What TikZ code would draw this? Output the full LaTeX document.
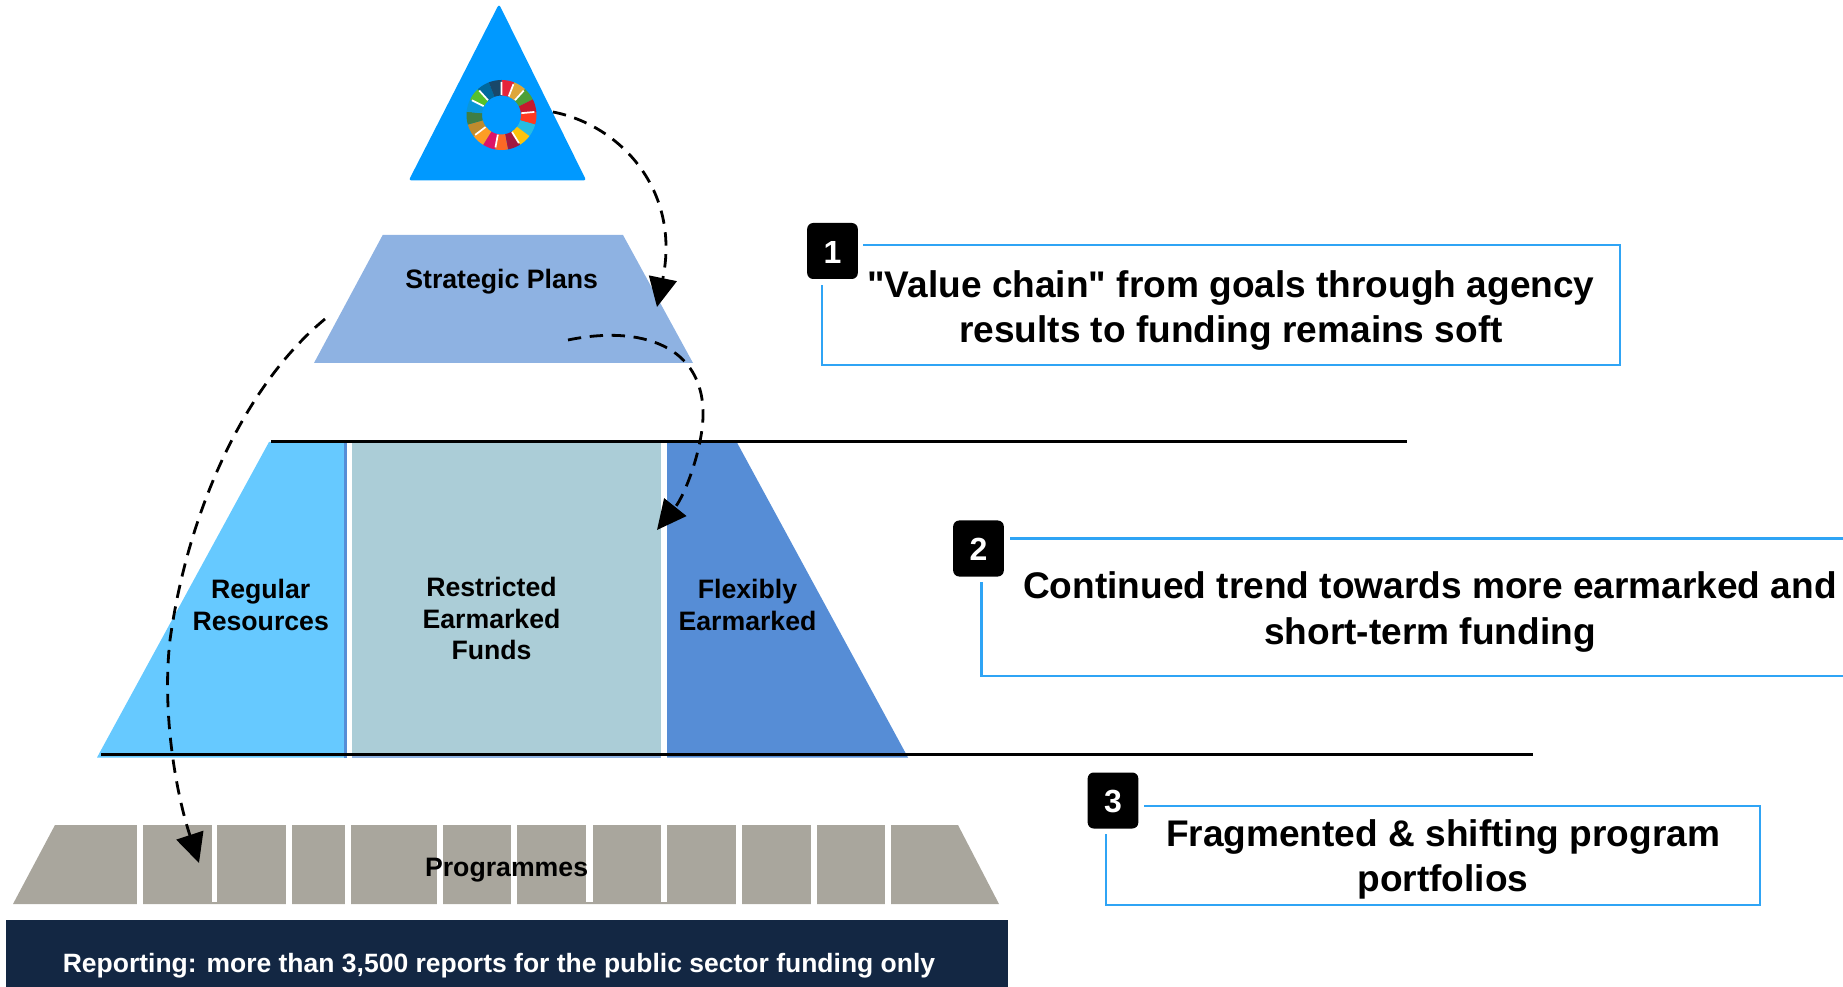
\documentclass[tikz,border=0pt]{standalone}
\usepackage{fontspec}
\setmainfont{Liberation Sans}
\newfontfamily\straightq{Liberation Sans}
\usetikzlibrary{arrows.meta}
\definecolor{tri}{HTML}{0099FF}
\definecolor{strat}{HTML}{8EB2E2}
\definecolor{regular}{HTML}{66C9FF}
\definecolor{restr}{HTML}{ABCDD7}
\definecolor{flex}{HTML}{568DD6}
\definecolor{prog}{HTML}{A9A69D}
\definecolor{navy}{HTML}{132743}
\definecolor{boxline}{HTML}{2FA4F5}
\tikzset{
  lbl/.style={font=\fontsize{20pt}{23.8pt}\selectfont\bfseries,align=center,inner sep=0pt,text=black},
  replbl/.style={font=\fontsize{19.87pt}{23.8pt}\selectfont\bfseries,align=center,inner sep=0pt,text=white},
  head/.style={font=\fontsize{27.8pt}{33.9pt}\selectfont\bfseries,align=center,inner sep=0pt,text=black},
  badge/.style={fill=black,rounded corners=4.5pt,inner sep=0pt},
  badgenum/.style={font=\fontsize{24pt}{28pt}\selectfont\bfseries,text=white,inner sep=0pt},
  frame/.style={draw=boxline,line width=1.6pt},
  rule/.style={draw=black,line width=2pt},
  flow/.style={draw=black,line width=2.1pt,dash pattern=on 10pt off 6.5pt,-{Triangle[length=22pt,width=21pt]}},
  gap/.style={fill=white,draw=none}
}
\begin{document}
\begin{tikzpicture}[x=0.75pt,y=-0.75pt]
\useasboundingbox (0,0) rectangle (1843,987);
% apex
\fill[tri,draw=tri,line width=2pt,line join=round] (499,7) -- (584,179) -- (411,179) -- cycle;
% SDG wheel
\begin{scope}[shift={(501.5,115)}]
\foreach \c [count=\i from 0] in {E5243B,DDA63A,4C9F38,C5192D,FF3A21,26BDE2,FCC30B,A21942,FD6925,DD1367,FD9D24,BF8B2E,3F7E44,0A97D9,56C02B,00689D,19486A}{
  \pgfmathsetmacro{\aa}{-90+21.176*\i}
  \pgfmathsetmacro{\ab}{\aa+21.176}
  \definecolor{sdg}{HTML}{\c}
  \fill[sdg] (\aa:35) arc[start angle=\aa,end angle=\ab,radius=35] -- (\ab:19.5) arc[start angle=\ab,end angle=\aa,radius=19.5] -- cycle;
}
\foreach \i in {0,1,3,6,8,10,13,14,16}{
  \pgfmathsetmacro{\aa}{-90+21.176*(\i+1)}
  \draw[white,line width=1.3pt] (\aa:20) -- (\aa:33);
}
\end{scope}
% strategic plans
\fill[strat] (382.7,235) -- (623,235) -- (693,363) -- (314,363) -- cycle;
% middle tier
\fill[regular] (269,442) -- (344,442) -- (344,757.5) -- (97,757.5) -- cycle;
\fill[flex] (344.3,442) rectangle (347,757.5);
\fill[restr] (352,442) rectangle (661,757.5);
\fill[flex] (667,442) -- (736.7,442) -- (908,757.5) -- (667,757.5) -- cycle;
\fill[strat] (352,755) rectangle (661,757.5);
\draw[rule] (271,441.5) -- (1407,441.5);
\draw[rule] (101,754.7) -- (1533,754.7);
% programmes
\fill[prog] (55,825) -- (958,825) -- (999,904) -- (13,904) -- cycle;
\foreach \a/\b/\e in {136.6/142.5/904.5,211.5/217.3/902,286/292/904.5,345/351/904.5,437/443/904.5,511/517/904.5,586/593/902,661/667/902,736/742/904.5,811/817/904.5,885/891/904.5}{
  \fill[gap] (\a,824) rectangle (\b,\e);
}
\fill[navy] (6,920) rectangle (1008,987);
% labels
\node[lbl] (strategic) at (501.7,281.5) {Strategic Plans};
\node[lbl] (regularlbl) at (260.7,605) {Regular\\Resources};
\node[lbl] (restricted) at (491.5,618.5) {Restricted\\Earmarked\\Funds};
\node[lbl] (flexibly) at (747.5,605) {Flexibly\\Earmarked};
\node[lbl] (programmes) at (506.6,870.5) {Programmes};
\node[replbl] (reporting) at (499,965.5) {Reporting: more than 3,500 reports for the public sector funding only};
% call-out boxes
\coordinate (b1a) at (863,245); \coordinate (b1b) at (1620,245); \coordinate (b1c) at (1620,365); \coordinate (b1d) at (822,365); \coordinate (b1e) at (822,285);
\draw[frame] (b1a) -- (b1b) -- (b1c) -- (b1d) -- (b1e);
\node[badge,minimum width=38pt,minimum height=42pt] (n1) at (832.5,251) {};
\node[badgenum] at ([yshift=-0.8pt]n1.center) {1};
\node[head] (t1) at (1231,310.5) {{\straightq\bfseries "}Value chain{\straightq\bfseries "} from goals through agency\\results to funding remains soft};
\coordinate (b2a) at (1010,538.5); \coordinate (b2b) at (1843,538.5); \coordinate (b2c) at (1843,676); \coordinate (b2d) at (981.5,676); \coordinate (b2e) at (981.5,582);
\draw[frame] (b2a) -- (b2b);
\draw[frame] (b2c) -- (b2d) -- (b2e);
\node[badge,minimum width=38pt,minimum height=42pt] (n2) at (978.5,548.5) {};
\node[badgenum] at ([yshift=-0.8pt]n2.center) {2};
\node[head] (t2) at (1430,612) {Continued trend towards more earmarked and\\short-term funding};
\coordinate (b3a) at (1144,806); \coordinate (b3b) at (1760,806); \coordinate (b3c) at (1760,905); \coordinate (b3d) at (1106,905); \coordinate (b3e) at (1106,834);
\draw[frame] (b3a) -- (b3b) -- (b3c) -- (b3d) -- (b3e);
\node[badge,minimum width=38pt,minimum height=42pt] (n3) at (1113,800.5) {};
\node[badgenum] at ([yshift=-0.8pt]n3.center) {3};
\node[head] (t3) at (1443,859.5) {Fragmented \& shifting program\\portfolios};
% connectors
\coordinate (f1s) at (553,112); \coordinate (f1e) at (657,307);
\coordinate (f2s) at (568,340); \coordinate (f2m) at (703,417); \coordinate (f2e) at (657,530);
\coordinate (f3s) at (325,319); \coordinate (f3m) at (170,640); \coordinate (f3e) at (199,863);
\draw[flow] (f1s) .. controls (620,125) and (681,190) .. (f1e);
\draw[flow] (f2s) .. controls (640,325) and (705,345) .. (f2m) .. controls (702,450) and (685,495) .. (f2e);
\draw[flow] (f3s) .. controls (245,385) and (188,510) .. (f3m) .. controls (162,710) and (175,790) .. (f3e);
\end{tikzpicture}
\end{document}
